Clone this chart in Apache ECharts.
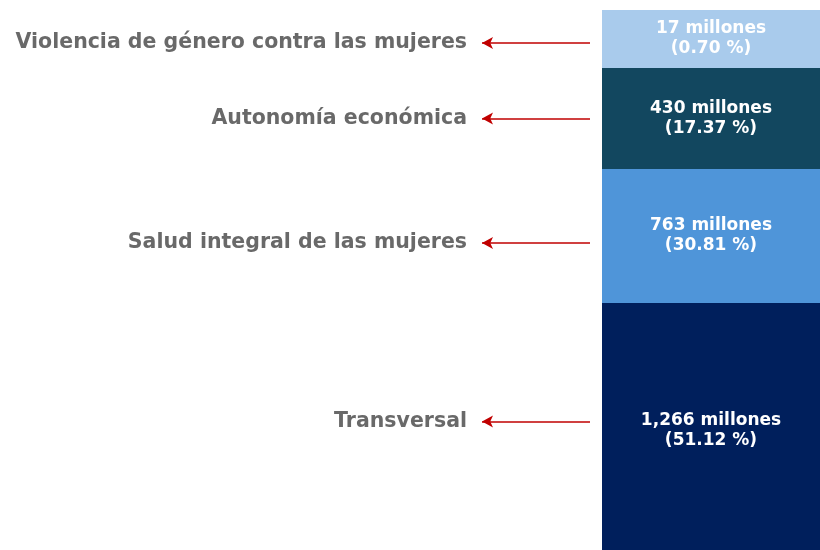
<!DOCTYPE html>
<html>
<head>
<meta charset="utf-8">
<script src="https://cdn.jsdelivr.net/npm/echarts@6/dist/echarts.min.js"></script>
<style>
  html, body { margin: 0; padding: 0; background: #fff; }
  #chart { width: 820px; height: 550px; }
</style>
</head>
<body>
<div id="chart"></div>
<script>
// categories, top to bottom
const categories = [
  "Violencia de género contra las mujeres",
  "Autonomía económica",
  "Salud integral de las mujeres",
  "Transversal"
];
const amountLabels = ["17 millones", "430 millones", "763 millones", "1,266 millones"];
const shareLabels = ["0.70 %", "17.37 %", "30.81 %", "51.12 %"];
// drawn segment heights (the bar is not to scale)
const segmentSpan = [58, 101, 134, 247];
const colors = ["#a9cbec", "#12475f", "#4f95d9", "#001f5c"];

// small vertical nudges of the callouts (px), styling only
const calloutShift = [4, 0, 7, -5];
const innerShift = [0, 0, 0, 4];

const total = segmentSpan.reduce((a, b) => a + b, 0);
const centers = [];
let acc = 0;
segmentSpan.forEach((s) => { centers.push(acc + s / 2); acc += s; });

const ARROW_TIP = 482;
const ARROW_TAIL = 590;

const chart = echarts.init(document.getElementById("chart"));

const barSeries = segmentSpan.map((s, i) => ({
  type: "bar",
  stack: "total",
  xAxisIndex: 0,
  yAxisIndex: 0,
  barWidth: "100%",
  data: [s],
  itemStyle: { color: colors[i] },
  label: {
    show: true,
    position: "inside",
    offset: [0, innerShift[i]],
    color: "#fff",
    fontFamily: "DejaVu Sans",
    fontWeight: "bold",
    fontSize: 17,
    lineHeight: 20,
    formatter: `${amountLabels[i]}\n(${shareLabels[i]})`
  },
  silent: true
}));

chart.setOption({
  animation: false,
  grid: [
    { left: 602, right: 0, top: 10, bottom: 0 },
    { left: 0, width: 602, top: 10, bottom: 0 }
  ],
  xAxis: [
    { gridIndex: 0, type: "category", data: ["total"], show: false },
    { gridIndex: 1, type: "value", min: 0, max: 602, show: false }
  ],
  yAxis: [
    { gridIndex: 0, type: "value", inverse: true, min: 0, max: total, show: false },
    { gridIndex: 1, type: "value", inverse: true, min: 0, max: total, show: false }
  ],
  series: [
    ...barSeries,
    {
      type: "scatter",
      xAxisIndex: 1,
      yAxisIndex: 1,
      symbolSize: 0,
      silent: true,
      data: categories.map((c, i) => ({ value: [ARROW_TIP, centers[i] + calloutShift[i]], name: c })),
      label: {
        show: true,
        position: "left",
        distance: 15,
        color: "#444",
        fontFamily: "DejaVu Sans",
        fontWeight: "bold",
        fontSize: 20.5,
        formatter: (p) => p.name
      },
      markLine: {
        silent: true,
        symbol: ["none", "arrow"],
        symbolSize: [9, 11],
        label: { show: false },
        lineStyle: { color: "#c00000", width: 1.6, type: "solid" },
        data: centers.map((y, i) => [
          { coord: [ARROW_TAIL, y + calloutShift[i]] },
          { coord: [ARROW_TIP, y + calloutShift[i]] }
        ])
      }
    }
  ]
});
</script>
</body>
</html>
